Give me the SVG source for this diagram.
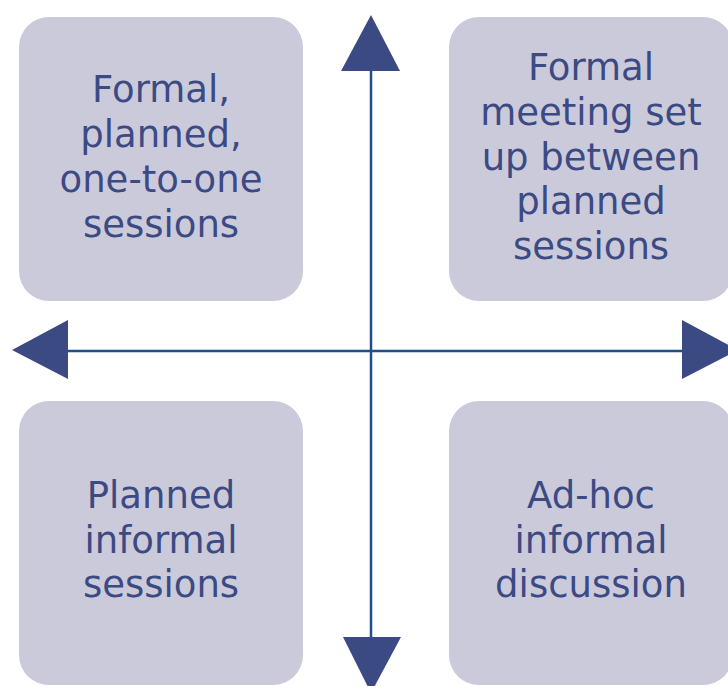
<svg xmlns="http://www.w3.org/2000/svg" width="728" height="686" viewBox="0 0 728 686">
<style>
.box{fill:#CBCADB;}
.t{font-family:"DejaVu Sans",Verdana,sans-serif;font-size:37px;fill:#3C4A84;text-anchor:middle;}
.ax{stroke:#1F4E8C;stroke-width:2.5;fill:none;}
.hd{fill:#3C4A84;}
</style>
<rect width="728" height="686" fill="#FFFFFF"/>
<g id="node-tl">
<rect class="box" x="19" y="17" width="284" height="284" rx="30"/>
<text class="t" x="161" y="102">Formal,</text>
<text class="t" x="161" y="147">planned,</text>
<text class="t" x="161" y="192">one-to-one</text>
<text class="t" x="161" y="237">sessions</text>
</g>
<g id="node-tr">
<rect class="box" x="449" y="17" width="284" height="284" rx="30"/>
<text class="t" x="591" y="80">Formal</text>
<text class="t" x="591" y="125">meeting set</text>
<text class="t" x="591" y="170">up between</text>
<text class="t" x="591" y="214">planned</text>
<text class="t" x="591" y="259">sessions</text>
</g>
<g id="node-bl">
<rect class="box" x="19" y="401" width="284" height="284" rx="30"/>
<text class="t" x="161" y="508">Planned</text>
<text class="t" x="161" y="553">informal</text>
<text class="t" x="161" y="597">sessions</text>
</g>
<g id="node-br">
<rect class="box" x="449" y="401" width="284" height="284" rx="30"/>
<text class="t" x="591" y="508">Ad-hoc</text>
<text class="t" x="591" y="553">informal</text>
<text class="t" x="591" y="597">discussion</text>
</g>
<g id="connectors">
<line class="ax" x1="371" y1="60" x2="371" y2="645"/>
<line class="ax" x1="60" y1="351" x2="690" y2="351"/>
<polygon class="hd" points="371,15 341,71 400,71"/>
<polygon class="hd" points="371,693 343,637 401,637"/>
<polygon class="hd" points="12,350 68,320 68,379"/>
<polygon class="hd" points="738,350 682,320 682,379"/>
</g>
</svg>
